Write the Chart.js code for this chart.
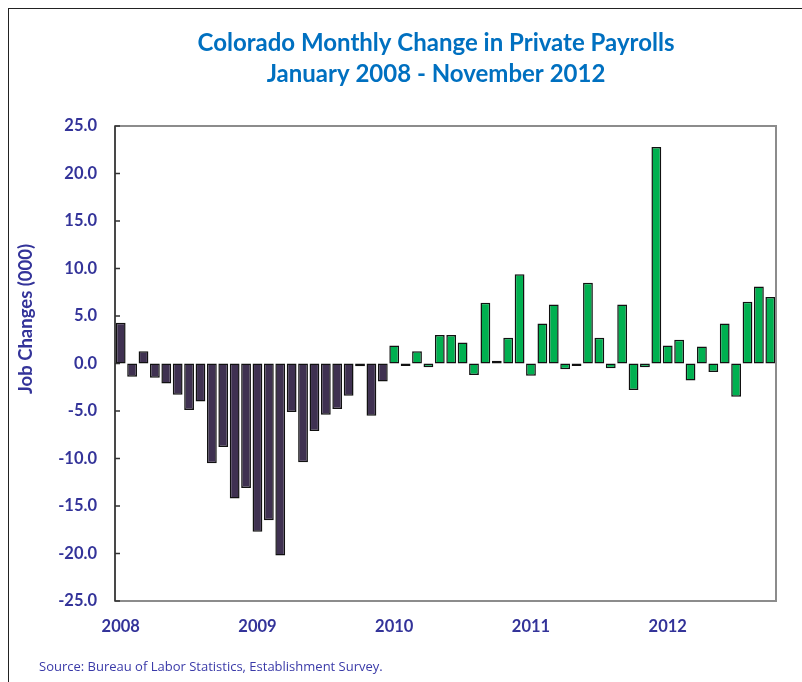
<!DOCTYPE html>
<html>
<head>
<meta charset="utf-8">
<script src="https://cdn.jsdelivr.net/npm/chart.js@4"></script>
<style>
  html, body { margin: 0; padding: 0; background: #fff; overflow: hidden; }
  #frame {
    position: absolute; left: 8px; top: 8px; width: 820px; height: 700px;
    border: 1.5px solid #222; box-sizing: border-box;
  }
  #wrap { position: absolute; left: 0; top: 0; width: 802px; height: 682px; }
  #source {
    position: absolute; left: 39px; top: 657px;
    font: 13px 'Open Sans', sans-serif; color: #3a3aa8;
  }
</style>
</head>
<body>
<div id="frame"></div>
<div id="wrap"><canvas id="chart" width="802" height="682"></canvas></div>
<div id="source">Source: Bureau of Labor Statistics, Establishment Survey.</div>
<script>
// months shown on the category axis, Jan 2008 onward
const months = [
  'Jan 2008','Feb 2008','Mar 2008','Apr 2008','May 2008','Jun 2008','Jul 2008','Aug 2008','Sep 2008','Oct 2008','Nov 2008','Dec 2008',
  'Jan 2009','Feb 2009','Mar 2009','Apr 2009','May 2009','Jun 2009','Jul 2009','Aug 2009','Sep 2009','Oct 2009','Nov 2009','Dec 2009',
  'Jan 2010','Feb 2010','Mar 2010','Apr 2010','May 2010','Jun 2010','Jul 2010','Aug 2010','Sep 2010','Oct 2010','Nov 2010','Dec 2010',
  'Jan 2011','Feb 2011','Mar 2011','Apr 2011','May 2011','Jun 2011','Jul 2011','Aug 2011','Sep 2011','Oct 2011','Nov 2011','Dec 2011',
  'Jan 2012','Feb 2012','Mar 2012','Apr 2012','May 2012','Jun 2012','Jul 2012','Aug 2012','Sep 2012','Oct 2012'
];
const yearLabels = ['2008', '2009', '2010', '2011', '2012'];

// job changes (000), recession years and recovery years
const jobs0809 = [
  4.3, -1.4, 1.3, -1.5, -2.1, -3.3, -4.9, -4.0, -10.5, -8.8, -14.2, -13.1,
  -17.7, -16.5, -20.2, -5.1, -10.4, -7.1, -5.4, -4.8, -3.4, -0.3, -5.5, -1.9
];
const jobs1012 = [
  1.9, -0.25, 1.3, -0.4, 3.0, 3.0, 2.2, -1.2, 6.4, 0.3, 2.7, 9.4,
  -1.3, 4.2, 6.2, -0.6, -0.25, 8.5, 2.7, -0.5, 6.2, -2.8, -0.4, 22.8,
  1.9, 2.5, -1.8, 1.8, -0.9, 4.2, -3.5, 6.5, 8.1, 7.0
];

const yTickValues = [25, 20, 15, 10, 5, 0, -5, -10, -15, -20, -25];
const titleLines = ['Colorado Monthly Change in Private Payrolls', 'January 2008 - November 2012'];

const allValues = jobs0809.concat(jobs1012);
const barColors = allValues.map((v, i) => i < jobs0809.length ? '#3f3151' : '#00b050');

const navy = '#333399';

// title sits right of the canvas centre in the original, so draw it by hand
const titlePlugin = {
  id: 'titlePlugin',
  afterDraw(chart) {
    const ctx = chart.ctx;
    ctx.save();
    ctx.fillStyle = '#0070c0';
    ctx.font = 'bold 24px Lato, sans-serif';
    ctx.textAlign = 'center';
    ctx.textBaseline = 'middle';
    ctx.fillText(titleLines[0], 436, 43);
    ctx.fillText(titleLines[1], 436, 74);
    ctx.restore();
  }
};

const framePlugin = {
  id: 'framePlugin',
  afterDatasetsDraw(chart) {
    const { ctx, chartArea: a, scales } = chart;
    ctx.save();
    // plot border
    ctx.strokeStyle = '#8c8c8c';
    ctx.lineWidth = 2;
    ctx.strokeRect(a.left, a.top, a.right - a.left, a.bottom - a.top);
    // left axis line and inward ticks
    ctx.strokeStyle = '#333';
    ctx.lineWidth = 1.5;
    ctx.beginPath();
    ctx.moveTo(a.left, a.top);
    ctx.lineTo(a.left, a.bottom);
    scales.y.ticks.forEach(t => {
      const py = scales.y.getPixelForValue(t.value);
      ctx.moveTo(a.left, py);
      ctx.lineTo(a.left + 5, py);
    });
    ctx.stroke();
    // y axis title, sitting a bit above the plot's middle like the original
    ctx.translate(26, 319);
    ctx.rotate(-Math.PI / 2);
    ctx.fillStyle = navy;
    ctx.font = 'bold 18.5px Lato, sans-serif';
    ctx.textAlign = 'center';
    ctx.textBaseline = 'middle';
    ctx.fillText('Job Changes (000)', 0, 0);
    ctx.restore();
  }
};

new Chart(document.getElementById('chart'), {
  type: 'bar',
  data: {
    labels: months,
    datasets: [{
      data: allValues,
      backgroundColor: barColors,
      borderColor: '#111',
      borderWidth: 1.5,
      borderSkipped: false,
      categoryPercentage: 1,
      barPercentage: 0.86
    }]
  },
  options: {
    responsive: false,
    animation: false,
    layout: { padding: { left: 0, right: 26, top: 126, bottom: 0 } },
    plugins: {
      legend: { display: false },
      tooltip: { enabled: false },
      title: { display: false }
    },
    scales: {
      x: {
        grid: { display: false },
        border: { display: false },
        ticks: {
          autoSkip: false,
          maxRotation: 0,
          padding: 8,
          color: navy,
          font: { family: 'Lato', size: 16.5, weight: 'bold' },
          callback: (v, i) => i % 12 === 0 ? yearLabels[i / 12] : ''
        },
        afterFit: s => { s.height = 81; }
      },
      y: {
        min: -25,
        max: 25,
        grid: { display: false },
        border: { display: false },
        afterBuildTicks: s => { s.ticks = yTickValues.map(v => ({ value: v })); },
        afterFit: s => { s.width = 115; },
        ticks: {
          padding: 10,
          color: navy,
          font: { family: 'Lato', size: 16.5, weight: 'bold' },
          callback: v => v.toFixed(1)
        }
      }
    }
  },
  plugins: [framePlugin, titlePlugin]
});
</script>
</body>
</html>
